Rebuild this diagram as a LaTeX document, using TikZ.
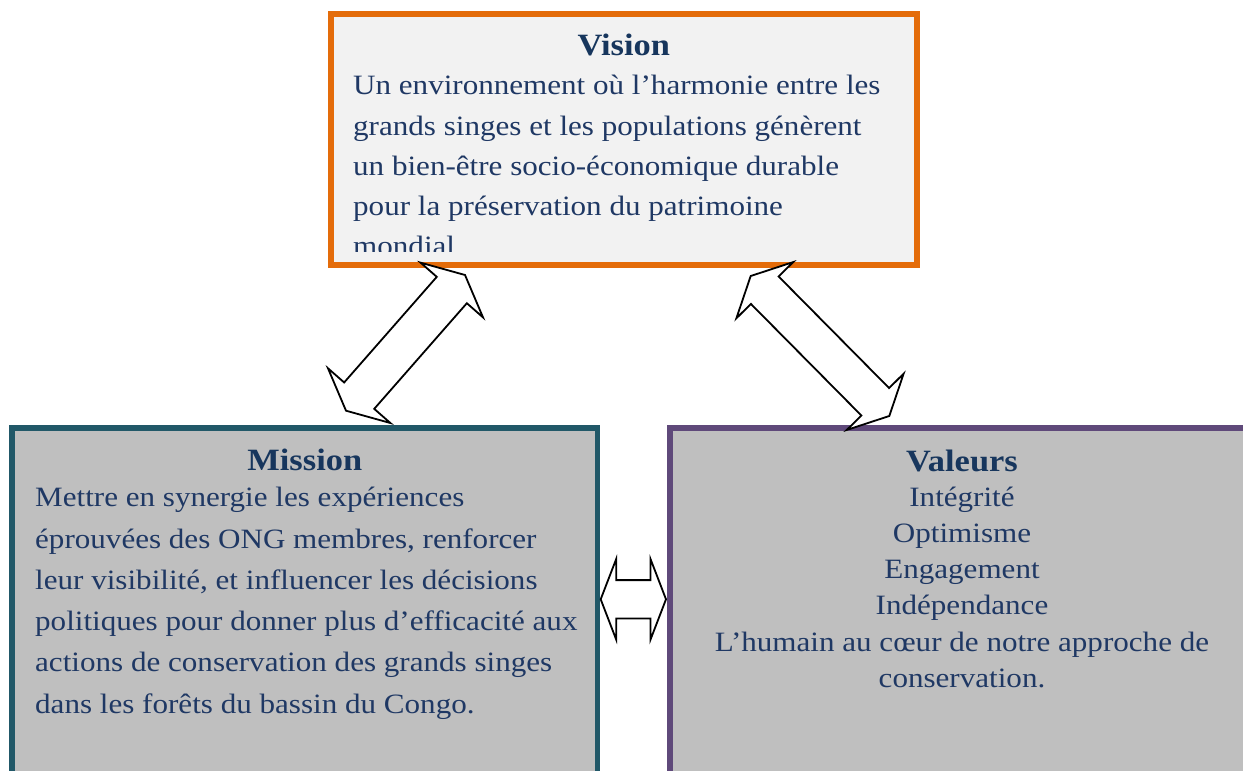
\documentclass[tikz,border=0pt]{standalone}
\usepackage{fontspec}
\setmainfont{Liberation Serif}[FakeStretch=1.11]
\usetikzlibrary{calc}
\definecolor{orangeb}{HTML}{E46C0A}
\definecolor{tealb}{HTML}{215868}
\definecolor{purpleb}{HTML}{5F497A}
\definecolor{txt}{HTML}{1F3864}
\definecolor{ttl}{HTML}{17365D}
\definecolor{visfill}{HTML}{F2F2F2}
\definecolor{boxfill}{HTML}{BFBFBF}
\newcommand\dblarr[5]{%
  \coordinate (pa) at ($(#1)!#3!(#2)$);
  \coordinate (pb) at ($(#2)!#3!(#1)$);
  \draw[blockarr] (#1) -- ($(pa)!#5!90:(#2)$) -- ($(pa)!#4!90:(#2)$)
    -- ($(pb)!#4!-90:(#1)$) -- ($(pb)!#5!-90:(#1)$) -- (#2)
    -- ($(pb)!#5!90:(#1)$) -- ($(pb)!#4!90:(#1)$)
    -- ($(pa)!#4!-90:(#2)$) -- ($(pa)!#5!-90:(#2)$) -- cycle;}
\begin{document}
\begin{tikzpicture}[x=1pt,y=-1pt,
  panel/.style={line width=5.7pt, outer sep=0pt, inner sep=0pt, anchor=north west},
  body/.style={inner sep=0pt, text=txt, font=\fontsize{28}{40}\selectfont},
  title/.style={inner sep=0pt, text=ttl, font=\fontsize{31}{40}\selectfont\bfseries, anchor=base},
  blockarr/.style={draw=black, fill=white, line width=1.8pt, line join=miter}]
\useasboundingbox (0,0) rectangle (1243,771);
\clip (0,0) rectangle (1243,771);
% panels
\node[panel, draw=orangeb, fill=visfill, minimum width=585.7pt, minimum height=251pt] (vision) at (331,14) {};
\node[panel, draw=tealb, fill=boxfill, minimum width=585.5pt, minimum height=400pt] (mission) at (12,428) {};
\node[panel, draw=purpleb, fill=boxfill, minimum width=585pt, minimum height=400pt] (valeurs) at (670,428) {};
% Vision text
\node[title] (vt) at (623.8,55) {Vision};
\begin{scope}
\clip (334,17) rectangle (914,251.5);
\node[body, anchor=base west] (v1) at (353,94) {Un environnement où l’harmonie entre les};
\node[body, anchor=base west] (v2) at (353,135) {grands singes et les populations génèrent};
\node[body, anchor=base west] (v3) at (353,175) {un bien-être socio-économique durable};
\node[body, anchor=base west] (v4) at (353,215) {pour la préservation du patrimoine};
\node[body, anchor=base west] (v5) at (353,255.5) {mondial};
\end{scope}
% Mission text
\node[title] (mt) at (304.8,470) {Mission};
\node[body, anchor=base west] (m1) at (35,506.7) {Mettre en synergie les expériences};
\node[body, anchor=base west] (m2) at (35,548.0) {éprouvées des ONG membres, renforcer};
\node[body, anchor=base west] (m3) at (35,589.3) {leur visibilité, et influencer les décisions};
\node[body, anchor=base west] (m4) at (35,630.6) {politiques pour donner plus d’efficacité aux};
\node[body, anchor=base west] (m5) at (35,671.9) {actions de conservation des grands singes};
\node[body, anchor=base west] (m6) at (35,713.2) {dans les forêts du bassin du Congo.};
% Valeurs text
\node[title] (wt) at (962,471.7) {Valeurs};
\node[body, anchor=base] (w1) at (962,506.7) {Intégrité};
\node[body, anchor=base] (w2) at (962,542.6) {Optimisme};
\node[body, anchor=base] (w3) at (962,578.6) {Engagement};
\node[body, anchor=base] (w4) at (962,614.8) {Indépendance};
\node[body, anchor=base] (w5) at (962,651.3) {L’humain au cœur de notre approche de};
\node[body, anchor=base] (w6) at (962,687.8) {conservation.};
% block double arrows
\coordinate (la) at (346,410.7);
\coordinate (lb) at (465,275);
\dblarr{la}{lb}{20pt}{20pt}{41.5pt}
\coordinate (ra) at (750.7,276);
\coordinate (rb) at (889.3,416);
\dblarr{ra}{rb}{20pt}{19.5pt}{40pt}
\coordinate (ha) at (600.7,599.3);
\coordinate (hb) at (666,599.3);
\dblarr{ha}{hb}{15.5pt}{19.2pt}{40.3pt}
\end{tikzpicture}
\end{document}
